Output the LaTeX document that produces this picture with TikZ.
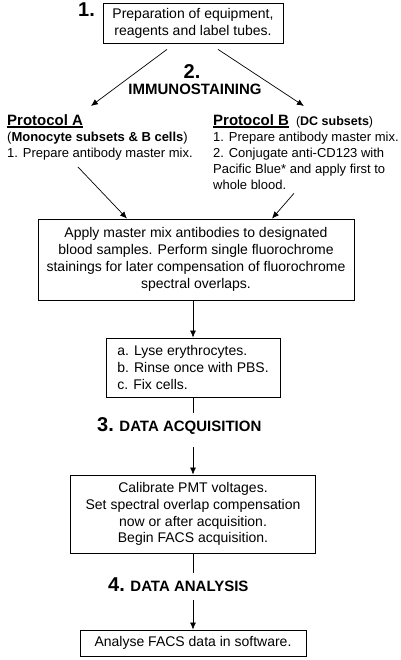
\documentclass[tikz,border=0pt]{standalone}
\usepackage{fontspec}
\setmainfont{Liberation Sans}
\usetikzlibrary{arrows.meta}
\newcommand{\protul}[1]{\setbox0\hbox{#1}\rlap{\rule[-2.5pt]{\wd0}{1.3pt}}\box0}

\begin{document}
\begin{tikzpicture}[x=1pt, y=1pt,
  box/.style={draw, line width=0.8pt, align=center, inner sep=0pt, font=\fontsize{14}{16.8}\selectfont},
  proto/.style={align=left, inner sep=0pt, font=\fontsize{13}{16}\selectfont},
  stephead/.style={inner sep=0pt, font=\bfseries\fontsize{15}{16}\selectfont},
  arr/.style={-{Latex[length=7pt,width=6pt]}, line width=0.7pt}]
\useasboundingbox (0,0) rectangle (400,660);
\node [box, minimum width=180, minimum height=40] (prep) at (193,637) {Preparation of equipment,\\reagents and label tubes.};
\node [stephead, anchor=base west] (num1) at (78,643) {\fontsize{20}{20}\selectfont 1.};
\node [stephead, anchor=base] (num2) at (192,581) {\fontsize{20}{20}\selectfont 2.};
\node [stephead, anchor=base] (stain) at (195,565) {IMMUNOSTAINING};
\node [proto, anchor=north west] (protA) at (7,546) {{\fontsize{15}{16}\selectfont\bfseries\protul{Protocol A}}\\(\textbf{Monocyte subsets \& B cells})\\1. Prepare antibody master mix.};
\node [proto, anchor=north west] (protB) at (213,546) {{\fontsize{15}{16}\selectfont\bfseries\protul{Protocol B}}\hspace{7pt}{\fontsize{12.5}{16}\selectfont(\textbf{DC subsets})}\\1. Prepare antibody master mix.\\2. Conjugate anti-CD123 with\\Pacific Blue* and apply first to\\whole blood.};
\node [box, minimum width=316, minimum height=81] (mix) at (196,400.5) {Apply master mix antibodies to designated\\blood samples. Perform single fluorochrome\\stainings for later compensation of fluorochrome\\spectral overlaps.};
\node [box, minimum width=174, minimum height=59, align=left] (lyse) at (193,292.5) {a. Lyse erythrocytes.\\b. Rinse once with PBS.\\c. Fix cells.};
\node [stephead, anchor=base west] (step3) at (97,228) {{\fontsize{20}{20}\selectfont 3.} DATA ACQUISITION};
\node [box, minimum width=245, minimum height=78] (acq) at (193,146) {Calibrate PMT voltages.\\Set spectral overlap compensation\\now or after acquisition.\\Begin FACS acquisition.};
\node [stephead, anchor=base west] (step4) at (108,68) {{\fontsize{20}{20}\selectfont 4.} DATA ANALYSIS};
\node [box, minimum width=226, minimum height=26] (anal) at (193,17) {Analyse FACS data in software.};
\draw [arr] ([shift={(-26,-6)}]prep.south) -- ([shift={(-9,8)}]protA.north);
\draw [arr] ([shift={(25,-6)}]prep.south) -- ([shift={(-2,8)}]protB.north);
\draw [arr] ([shift={(-22,-7)}]protA.south) -- ([shift={(-69,0)}]mix.north);
\draw [arr] ([shift={(-12,-4)}]protB.south) -- ([shift={(76,0)}]mix.north);
\draw [arr] (lyse.north |- mix.south) -- (lyse.north);
\draw [line width=0.7pt, shorten >=5pt] (lyse.south) -- (lyse.south |- step3.north);
\draw [arr, shorten <=12pt] (lyse.south |- step3.south) -- (acq.north);
\draw [line width=0.7pt, shorten >=5pt] (acq.south) -- (acq.south |- step4.north);
\draw [arr, shorten <=8pt] (acq.south |- step4.south) -- (anal.north);
\end{tikzpicture}
\end{document}
